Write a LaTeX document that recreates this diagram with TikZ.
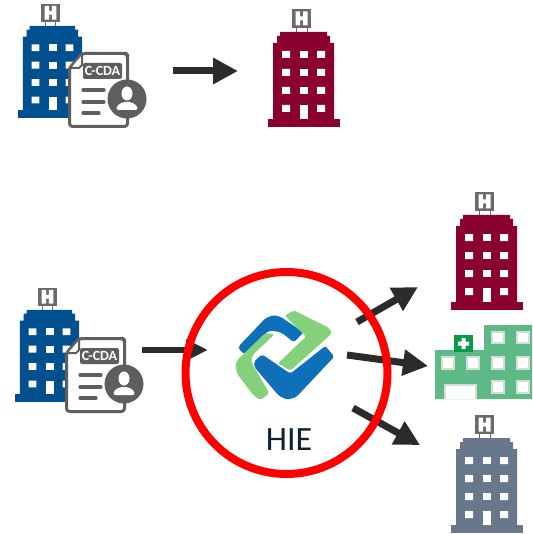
\documentclass[tikz,border=0pt]{standalone}
\usepackage{fontspec}
\setmainfont{Carlito}
\usetikzlibrary{arrows.meta}
\definecolor{hblue}{HTML}{00508F}
\definecolor{hred}{HTML}{8A002E}
\definecolor{hgray}{HTML}{67788A}
\definecolor{hgreen}{HTML}{5DB985}
\definecolor{crossgreen}{HTML}{089A4B}
\definecolor{signgray}{HTML}{6A6A6A}
\definecolor{docgray}{HTML}{5E5E60}
\definecolor{arrowdark}{HTML}{2B2B2B}
\definecolor{logoblue}{HTML}{0E70B8}
\definecolor{logogreen}{HTML}{84D17C}
\definecolor{hietext}{HTML}{0B2239}
\definecolor{winedge}{HTML}{D5DDD8}
\tikzset{
  bigarrow/.style={draw=arrowdark,line width=7pt,-{Triangle[length=25pt,width=25pt]}},
  logopart/.style={rounded corners=2pt},
  hwin/.style={fill=white,draw=winedge,line width=1.2pt},
  pics/tower/.style={code={
    \fill[#1] (0,-8) rectangle (72,0);
    \fill[#1] (5,-8) -- (5,-84) -- (9,-84) -- (9,-91) -- (12,-91) -- (12,-95) -- (59,-95) -- (59,-91) -- (62,-91) -- (62,-84) -- (66,-84) -- (66,-8) -- cycle;
    \draw[signgray,line width=.8pt] (28,-99) -- (28,-95) (39,-99) -- (39,-95);
    \fill[signgray] (24,-118) rectangle (43,-99);
    \fill[white] (27.5,-115.5) rectangle (32,-101.5) (35,-115.5) rectangle (39.5,-101.5) (30,-110.5) rectangle (37,-106.5);
    \foreach \wy in {-76,-58,-40,-22}{
      \fill[white] (14,\wy) rectangle +(8,7) (49,\wy) rectangle +(8,7);
    }
    \foreach \wy in {-76,-58,-40}{
      \fill[white] (32,\wy) rectangle +(8,7);
    }
    \fill[white] (32,-22) rectangle (40,-8);
  }},
  pics/docicon/.style={code={
    \fill[white,draw=docgray,line width=3pt,line join=round,rounded corners=3pt]
      (14,1.5) -- (58,1.5) -- (59.5,3) -- (59.5,74.5) -- (1.5,74.5) -- (1.5,16) -- cycle;
    \fill[white,draw=docgray,line width=2pt,line join=round] (1.5,16) -- (11,16) -- (14,13) -- (14,1.5) -- cycle;
    \fill[docgray,rounded corners=2pt] (15,11) rectangle (54,27);
    \node[text=white,font=\bfseries\fontsize{14}{14}\selectfont,inner sep=0pt] (ccda#1) at (34.5,19) {C-CDA};
    \draw[docgray,line width=3.2pt,line cap=round] (15,38) -- (36,38) (15,50) -- (36,50) (15,61) -- (31,61);
    \fill[docgray] (59,47) circle (19.5);
    \fill[white] (59,41.5) ellipse (5.5 and 7);
    \fill[white,rounded corners=2pt] (48.5,58) -- (48.5,54) -- (55,50) -- (63,50) -- (69.5,54) -- (69.5,58) -- cycle;
  }}
}
\begin{document}
\begin{tikzpicture}[x=1pt,y=-1pt]
\useasboundingbox (0,0) rectangle (532,534);
\fill[white] (0,0) rectangle (532,534);

% top row
\pic[scale=.97] at (18,118) {tower=hblue};
\pic at (68,52) {docicon=a};
\pic at (268,127) {tower=hred};
\coordinate (a1s) at (173,71);
\coordinate (a1e) at (238,71);
\draw[bigarrow] (a1s) -- (a1e);

% lower row
\pic[scale=.97] at (15,402) {tower=hblue};
\pic at (65,337) {docicon=b};
\pic at (451,310) {tower=hred};
\pic at (451,533) {tower=hgray};

% clinic
\fill[hgreen] (435,350) -- (484,350) -- (484,325) -- (532,325) -- (532,399) -- (435,399) -- cycle;
\foreach \wx in {492,517}{
  \filldraw[hwin] (\wx,332) rectangle +(12,11);
  \filldraw[hwin] (\wx,381) rectangle +(12,12);
}
\foreach \wx in {442,467,492,517}{
  \filldraw[hwin] (\wx,357) rectangle +(12,12);
}
\fill[white] (445,399) -- (445,385) -- (476,385) -- (476,399) -- cycle;
\draw[winedge,line width=1.2pt] (445,399) -- (445,385) -- (476,385) -- (476,399);
\fill[crossgreen] (454,335) rectangle (473,352);
\fill[white] (461.5,338) rectangle (465.5,349) (458,341.5) rectangle (469,345.5);

% connectors
\coordinate (b0s) at (142,350);
\coordinate (b0e) at (208,350);
\coordinate (b1s) at (357,322);
\coordinate (b1e) at (418,287);
\coordinate (b2s) at (347,355);
\coordinate (b2e) at (428,366);
\coordinate (b3s) at (353,408);
\coordinate (b3e) at (420,445);
\draw[bigarrow,line width=5.5pt,-{Triangle[length=22pt,width=20pt]}] (b0s) -- (b0e);
\draw[bigarrow] (b1s) -- (b1e);
\draw[bigarrow] (b2s) -- (b2e);
\draw[bigarrow] (b3s) -- (b3e);

% HIE circle
\node[circle,draw=red,line width=8pt,minimum size=202pt,inner sep=0pt] (hie) at (286.5,373) {};

% logo
\begin{scope}[shift={(232,305)},x=.3333pt,y=-.3333pt]
\fill[logoblue,logopart] (20,124) -- (100,40) -- (125,30) -- (147,36) -- (214,82) -- (186,112) -- (150,84) -- (130,78) -- (108,78) -- (38,148) -- (20,132) -- cycle;
\fill[logogreen,logopart] (158,32) -- (185,16) -- (290,68) -- (300,85) -- (175,197) -- (138,175) -- (222,95) -- cycle;
\fill[logogreen,logopart] (10,182) -- (16,165) -- (100,84) -- (127,88) -- (62,150) -- (57,170) -- (112,265) -- (85,285) -- (65,272) -- (16,207) -- cycle;
\fill[logoblue,logopart] (66,170) -- (90,148) -- (175,206) -- (280,123) -- (307,155) -- (192,277) -- (165,284) -- (140,272) -- (68,187) -- cycle;
\end{scope}
\node[text=hietext,font=\fontsize{34}{34}\selectfont,inner sep=0pt] (hielabel) at (289,440) {HIE};
\end{tikzpicture}
\end{document}
